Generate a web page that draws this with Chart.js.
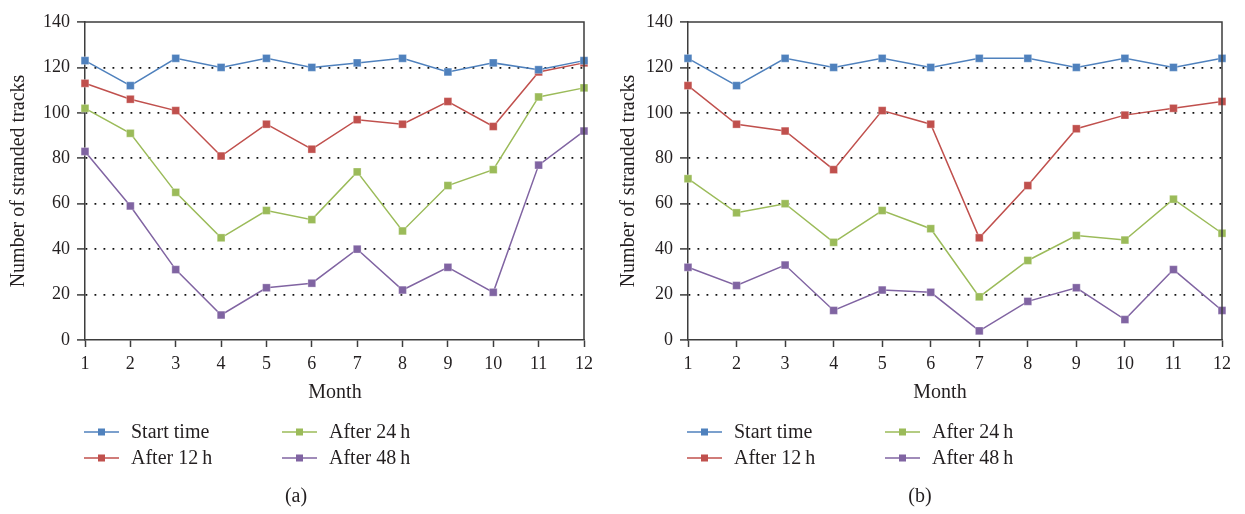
<!DOCTYPE html>
<html>
<head>
<meta charset="utf-8">
<script src="https://cdn.jsdelivr.net/npm/chart.js@4.4.1/dist/chart.umd.min.js"></script>
<style>
  html, body { margin: 0; padding: 0; background: #fff; }
  body { width: 1245px; height: 514px; position: relative; overflow: hidden; }
  .panel { position: absolute; top: 0; height: 514px; }
  #panelA { left: 0; width: 610px; }
  #panelB { left: 610px; width: 635px; }
</style>
</head>
<body>
<div class="panel" id="panelA"><canvas id="chartA"></canvas></div>
<div class="panel" id="panelB"><canvas id="chartB"></canvas></div>
<script>
// Month axis
const months = ['1', '2', '3', '4', '5', '6', '7', '8', '9', '10', '11', '12'];
const yTicks = [0, 20, 40, 60, 80, 100, 120, 140];
const seriesNames = ['Start time', 'After 12\u2009h', 'After 24\u2009h', 'After 48\u2009h'];
const seriesColors = ['#4f81bd', '#c0504d', '#9bbb59', '#8064a2'];

// Panel (a)
const startA   = [123, 112, 124, 120, 124, 120, 122, 124, 118, 122, 119, 123];
const after12A = [113, 106, 101,  81,  95,  84,  97,  95, 105,  94, 118, 122];
const after24A = [102,  91,  65,  45,  57,  53,  74,  48,  68,  75, 107, 111];
const after48A = [ 83,  59,  31,  11,  23,  25,  40,  22,  32,  21,  77,  92];

// Panel (b)
const startB   = [124, 112, 124, 120, 124, 120, 124, 124, 120, 124, 120, 124];
const after12B = [112,  95,  92,  75, 101,  95,  45,  68,  93,  99, 102, 105];
const after24B = [ 71,  56,  60,  43,  57,  49,  19,  35,  46,  44,  62,  47];
const after48B = [ 32,  24,  33,  13,  22,  21,   4,  17,  23,   9,  31,  13];

const TEXT = '#231f20';
const AXIS = '#3d3d3d';
const SERIF = '"Liberation Serif", "DejaVu Serif", serif';

// Closes the plot box and draws axis title, legend and caption below it
const extrasPlugin = {
  id: 'extras',
  afterDraw(chart, args, opts) {
    const ctx = chart.ctx;
    const a = chart.chartArea;
    ctx.save();
    // top and right edges of the frame
    ctx.strokeStyle = AXIS;
    ctx.lineWidth = 1.5;
    ctx.beginPath();
    ctx.moveTo(a.left, a.top);
    ctx.lineTo(a.right, a.top);
    ctx.lineTo(a.right, a.bottom);
    ctx.stroke();

    ctx.fillStyle = TEXT;
    ctx.font = '20px ' + SERIF;
    ctx.textAlign = 'center';
    ctx.textBaseline = 'middle';
    ctx.fillText('Month', opts.monthX, 393);
    ctx.fillText(opts.caption, opts.captionX, 497);

    // legend: two columns, two rows
    const cols = [opts.legendX, opts.legendX + 198];
    const rows = [432, 458];
    chart.data.datasets.forEach((ds, i) => {
      const x = cols[i >> 1];
      const y = rows[i & 1];
      ctx.strokeStyle = ds.borderColor;
      ctx.lineWidth = 1.6;
      ctx.beginPath();
      ctx.moveTo(x, y);
      ctx.lineTo(x + 35, y);
      ctx.stroke();
      ctx.fillStyle = ds.pointBackgroundColor;
      ctx.fillRect(x + 17.5 - 3.5, y - 3.5, 7, 7);
      ctx.fillStyle = TEXT;
      ctx.textAlign = 'left';
      ctx.font = '20px ' + SERIF;
      ctx.fillText(ds.label, x + 47, y + 1);
    });
    ctx.restore();
  }
};

function makeDatasets(lists) {
  return lists.map((values, i) => ({
    label: seriesNames[i],
    data: values,
    borderColor: seriesColors[i],
    backgroundColor: seriesColors[i],
    pointBackgroundColor: seriesColors[i],
    pointBorderColor: 'rgba(255,255,255,0.5)',
    pointBorderWidth: 0.6,
    pointStyle: 'rect',
    pointRadius: 5.5,
    borderWidth: 1.5,
    tension: 0
  }));
}

function makeChart(canvasId, lists, cfg) {
  return new Chart(document.getElementById(canvasId), {
    type: 'line',
    data: { labels: months, datasets: makeDatasets(lists) },
    plugins: [extrasPlugin],
    options: {
      responsive: true,
      maintainAspectRatio: false,
      animation: false,
      events: [],
      layout: { padding: { left: 0, top: 22, right: cfg.padRight, bottom: 114 } },
      plugins: {
        legend: { display: false },
        tooltip: { enabled: false },
        extras: cfg.extras
      },
      scales: {
        x: {
          type: 'category',
          offset: false,
          afterFit: s => { s.height = 60; },
          grid: {
            drawOnChartArea: false,
            drawTicks: true,
            tickLength: 7,
            tickColor: AXIS,
            tickWidth: 1.5
          },
          border: { display: true, color: AXIS, width: 1.5 },
          ticks: {
            color: TEXT,
            font: { family: SERIF, size: 18 },
            padding: 6,
            maxRotation: 0,
            autoSkip: false
          }
        },
        y: {
          min: yTicks[0],
          max: yTicks[yTicks.length - 1],
          afterFit: s => { s.width = cfg.yWidth; },
          afterBuildTicks: s => { s.ticks = yTicks.map(v => ({ value: v })); },
          grid: {
            drawOnChartArea: true,
            drawTicks: true,
            tickLength: 8,
            tickColor: AXIS,
            tickWidth: 1.5,
            lineWidth: 1.8,
            color: c => (c.tick && (c.tick.value === yTicks[0] || c.tick.value === yTicks[yTicks.length - 1])) ? 'rgba(0,0,0,0)' : '#111'
          },
          border: { display: true, color: AXIS, width: 1.5, dash: [1.8, 7.2] },
          ticks: {
            color: TEXT,
            font: { family: SERIF, size: 18 },
            padding: 7
          },
          title: {
            display: true,
            text: 'Number of stranded tracks',
            color: TEXT,
            font: { family: SERIF, size: 20 },
            padding: { top: 7, bottom: 0 }
          }
        }
      }
    }
  });
}

makeChart('chartA', [startA, after12A, after24A, after48A], {
  yWidth: 85, padRight: 26,
  extras: { monthX: 335, captionX: 296, caption: '(a)', legendX: 84 }
});
makeChart('chartB', [startB, after12B, after24B, after48B], {
  yWidth: 78, padRight: 23,
  extras: { monthX: 330, captionX: 310, caption: '(b)', legendX: 77 }
});
</script>
</body>
</html>
